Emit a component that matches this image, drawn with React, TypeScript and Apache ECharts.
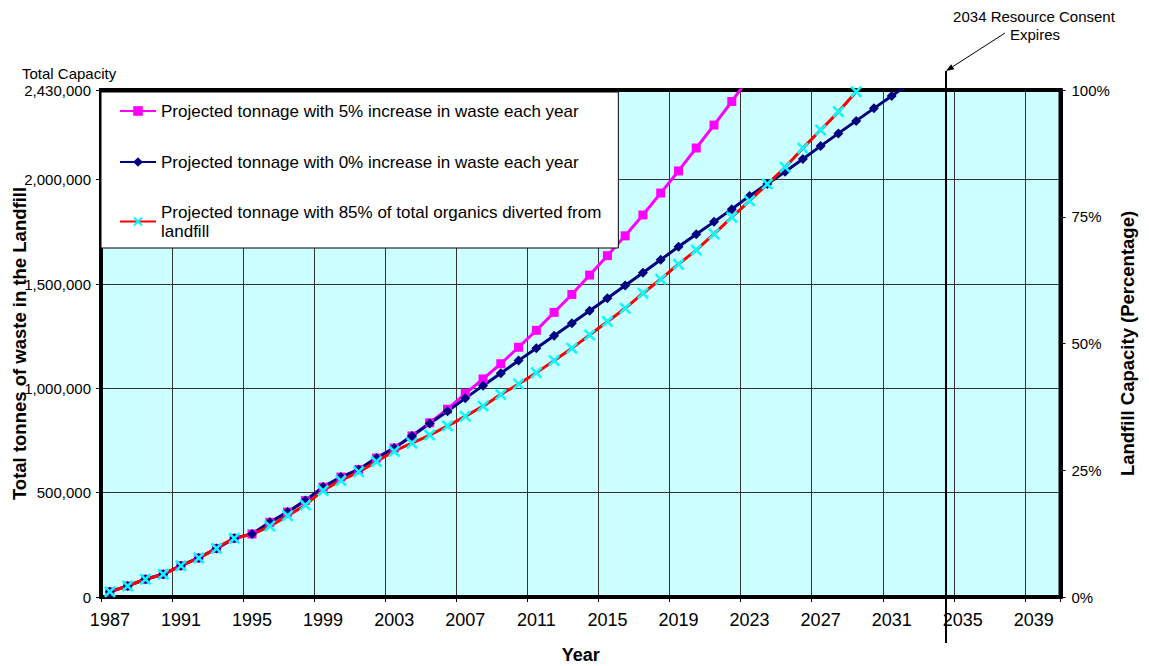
import React, { useEffect, useRef } from "react";
import * as echarts from "echarts";

const FONT = "'Liberation Sans', Arial, Helvetica, sans-serif";

const years = [
  "1987", "1988", "1989", "1990", "1991", "1992", "1993", "1994", "1995", "1996",
  "1997", "1998", "1999", "2000", "2001", "2002", "2003", "2004", "2005", "2006",
  "2007", "2008", "2009", "2010", "2011", "2012", "2013", "2014", "2015", "2016",
  "2017", "2018", "2019", "2020", "2021", "2022", "2023", "2024", "2025", "2026",
  "2027", "2028", "2029", "2030", "2031", "2032", "2033", "2034", "2035", "2036",
  "2037", "2038", "2039", "2040",
];

const name5 = "Projected tonnage with 5% increase in waste each year";
const name0 = "Projected tonnage with 0% increase in waste each year";
const name85 = "Projected tonnage with 85% of total organics diverted from landfill";

// 5% increase in waste each year (1987 - 2023)
const tonnage5 = [
  25000, 53000, 85000, 109000, 150000, 187000, 233000, 281000, 302000, 358000,
  407000, 462000, 527000, 575000, 611000, 666000, 714000, 772000, 835000, 900000,
  975000, 1045000, 1118000, 1197000, 1278000, 1364000, 1450000, 1543000, 1636000, 1731000,
  1831000, 1936000, 2042000, 2152000, 2262000, 2375000, 2492000,
];

// 0% increase in waste each year (1987 - 2032)
const tonnage0 = [
  25000, 53000, 85000, 109000, 150000, 187000, 233000, 281000, 302000, 358000,
  407000, 462000, 527000, 575000, 611000, 666000, 714000, 772000, 832000, 890000,
  952000, 1013000, 1072000, 1133000, 1192000, 1252000, 1312000, 1372000, 1432000, 1493000,
  1554000, 1616000, 1679000, 1739000, 1798000, 1859000, 1922000, 1980000, 2038000, 2099000,
  2161000, 2222000, 2282000, 2342000, 2401000, 2462000,
];

// 85% of total organics diverted from landfill (1987 - 2030)
const tonnage85 = [
  25000, 53000, 85000, 109000, 150000, 187000, 233000, 281000, 302000, 340000,
  390000, 441000, 510000, 558000, 600000, 649000, 698000, 737000, 776000, 820000,
  866000, 915000, 970000, 1021000, 1075000, 1133000, 1192000, 1256000, 1320000, 1384000,
  1456000, 1523000, 1595000, 1663000, 1740000, 1820000, 1899000, 1979000, 2060000, 2151000,
  2238000, 2326000, 2422000, 2518000,
];

const totalCapacity = 2430000;
const tonnageInterval = 500000;
const percentMax = 100;
const percentInterval = 25;
const noMarkerYear = "1995";
const consentYear = "2034";

const X_SYMBOL =
  "path://M0,1.5 L1.5,0 L5,3.5 L8.5,0 L10,1.5 L6.5,5 L10,8.5 L8.5,10 L5,6.5 L1.5,10 L0,8.5 L3.5,5 Z";

export default function App() {
  const ref = useRef<HTMLDivElement>(null);

  useEffect(() => {
    if (!ref.current) return;
    const chart = echarts.init(ref.current, null, { renderer: "svg" });

    const option: any = {
      animation: false,
      backgroundColor: "#ffffff",
      textStyle: { fontFamily: FONT, color: "#000" },
      grid: {
        left: 101,
        right: 88.5,
        top: 90,
        bottom: 69,
        show: true,
        backgroundColor: "#CCFFFF",
        borderColor: "#000",
        borderWidth: 4,
        containLabel: false,
        outerBoundsMode: "none",
      },
      legend: {
        orient: "vertical",
        left: 101,
        top: 92,
        padding: [9.5, 17, 8.5, 18],
        itemGap: 32,
        itemWidth: 36,
        itemHeight: 12,
        backgroundColor: "#ffffff",
        borderColor: "#000",
        borderWidth: 1,
        borderRadius: 0,
        selectedMode: false,
        textStyle: { fontSize: 17, lineHeight: 19, color: "#000", fontFamily: FONT },
        data: [
          { name: name5 },
          { name: name0 },
          { name: name85, textStyle: { padding: [0, 0, -19, 0] } },
        ],
        formatter: (n: string) =>
          n === name85
            ? "Projected tonnage with 85% of total organics diverted from\nlandfill"
            : n,
      },
      xAxis: [
        {
          type: "category",
          data: years,
          boundaryGap: true,
          position: "bottom",
          axisLine: { show: true, onZero: false, lineStyle: { color: "#000", width: 4 } },
          axisTick: { show: true, interval: 3, length: 5, lineStyle: { color: "#000", width: 1 } },
          axisLabel: { interval: 3, fontSize: 18, color: "#000", margin: 14, fontFamily: FONT },
          splitLine: { show: true, interval: 3, lineStyle: { color: "#333", width: 1 } },
          name: "Year",
          nameLocation: "middle",
          nameGap: 49,
          nameMoveOverlap: false,
          nameTextStyle: { fontSize: 18, fontWeight: "bold", color: "#000", fontFamily: FONT },
        },
        {
          type: "category",
          data: years,
          position: "top",
          axisLine: { show: true, onZero: false, lineStyle: { color: "#000", width: 4 } },
          axisTick: { show: false },
          axisLabel: { show: false },
          splitLine: { show: false },
        },
      ],
      yAxis: [
        {
          type: "value",
          min: 0,
          max: totalCapacity,
          interval: tonnageInterval,
          position: "left",
          axisLine: { show: true, lineStyle: { color: "#000", width: 4 } },
          axisTick: { show: true, length: 5, lineStyle: { color: "#000", width: 1 } },
          axisLabel: {
            fontSize: 15,
            color: "#000",
            margin: 10,
            fontFamily: FONT,
            formatter: (v: number) => Number(v).toLocaleString("en-US"),
          },
          splitLine: { show: true, lineStyle: { color: "#333", width: 1 } },
          name: "Total tonnes of waste in the Landfill",
          nameLocation: "middle",
          nameGap: 72,
          nameRotate: 90,
          nameMoveOverlap: false,
          nameTextStyle: { fontSize: 18.5, fontWeight: "bold", color: "#000", fontFamily: FONT },
        },
        {
          type: "value",
          min: 0,
          max: percentMax,
          interval: percentInterval,
          position: "right",
          axisLine: { show: true, lineStyle: { color: "#000", width: 4 } },
          axisTick: { show: true, length: 5, lineStyle: { color: "#000", width: 1 } },
          axisLabel: { fontSize: 15, color: "#000", margin: 11, fontFamily: FONT, formatter: "{value}%" },
          splitLine: { show: false },
          name: "Landfill Capacity (Percentage)",
          nameLocation: "middle",
          nameGap: 57,
          nameRotate: 90,
          nameMoveOverlap: false,
          nameTextStyle: { fontSize: 18.5, fontWeight: "bold", color: "#000", fontFamily: FONT },
        },
      ],
      series: [
        {
          name: name5,
          type: "line",
          xAxisIndex: 0,
          yAxisIndex: 0,
          data: tonnage5,
          symbol: "rect",
          symbolSize: 9,
          showAllSymbol: true,
          clip: true,
          lineStyle: { color: "#FF00FF", width: 3 },
          itemStyle: { color: "#FF00FF", borderWidth: 0 },
        },
        {
          name: name0,
          type: "line",
          xAxisIndex: 0,
          yAxisIndex: 0,
          data: tonnage0,
          symbol: "diamond",
          symbolSize: 10,
          showAllSymbol: true,
          clip: true,
          lineStyle: { color: "#000080", width: 3 },
          itemStyle: { color: "#000080", borderWidth: 0 },
        },
        {
          name: name85,
          type: "line",
          xAxisIndex: 0,
          yAxisIndex: 0,
          data: tonnage85.map((v, i) =>
            years[i] === noMarkerYear ? { value: v, symbol: "none" } : v
          ),
          symbol: X_SYMBOL,
          symbolSize: 12,
          showAllSymbol: true,
          smooth: 0.3,
          clip: true,
          lineStyle: { color: "#FF0000", width: 3 },
          itemStyle: { color: "#00FFFF", borderWidth: 0 },
        },
      ],
    };

    chart.setOption(option);

    const xLine = chart.convertToPixel({ xAxisIndex: 0 }, consentYear) as number;
    const ax = 1005;
    const ay = 33;
    const bx = xLine + 1;
    const by = 71;
    const dx = bx - ax;
    const dy = by - ay;
    const len = Math.sqrt(dx * dx + dy * dy);
    const ux = dx / len;
    const uy = dy / len;
    const hl = 8;
    const hw = 3;
    const baseX = bx - ux * hl;
    const baseY = by - uy * hl;

    chart.setOption({
      graphic: [
        {
          type: "text",
          x: 22,
          y: 73,
          z: 100,
          style: {
            text: "Total Capacity",
            fontSize: 15,
            fontFamily: FONT,
            fill: "#000",
            align: "left",
            verticalAlign: "middle",
          },
        },
        {
          type: "text",
          x: 1034,
          y: 16,
          z: 100,
          style: {
            text: "2034 Resource Consent",
            fontSize: 15,
            fontFamily: FONT,
            fill: "#000",
            align: "center",
            verticalAlign: "middle",
          },
        },
        {
          type: "text",
          x: 1035,
          y: 34,
          z: 100,
          style: {
            text: "Expires",
            fontSize: 15,
            fontFamily: FONT,
            fill: "#000",
            align: "center",
            verticalAlign: "middle",
          },
        },
        {
          type: "line",
          z: 100,
          shape: { x1: ax, y1: ay, x2: baseX, y2: baseY },
          style: { stroke: "#000", lineWidth: 1 },
        },
        {
          type: "polygon",
          z: 100,
          shape: {
            points: [
              [bx, by],
              [baseX - uy * hw, baseY + ux * hw],
              [baseX + uy * hw, baseY - ux * hw],
            ],
          },
          style: { fill: "#000" },
        },
        {
          type: "line",
          z: 100,
          shape: { x1: bx, y1: by, x2: bx, y2: 643 },
          style: { stroke: "#000", lineWidth: 2 },
        },
      ],
    });

    return () => chart.dispose();
  }, []);

  return (
    <div
      ref={ref}
      style={{
        position: "fixed",
        left: 0,
        top: 0,
        width: 1149,
        height: 666,
        background: "#fff",
      }}
    />
  );
}
